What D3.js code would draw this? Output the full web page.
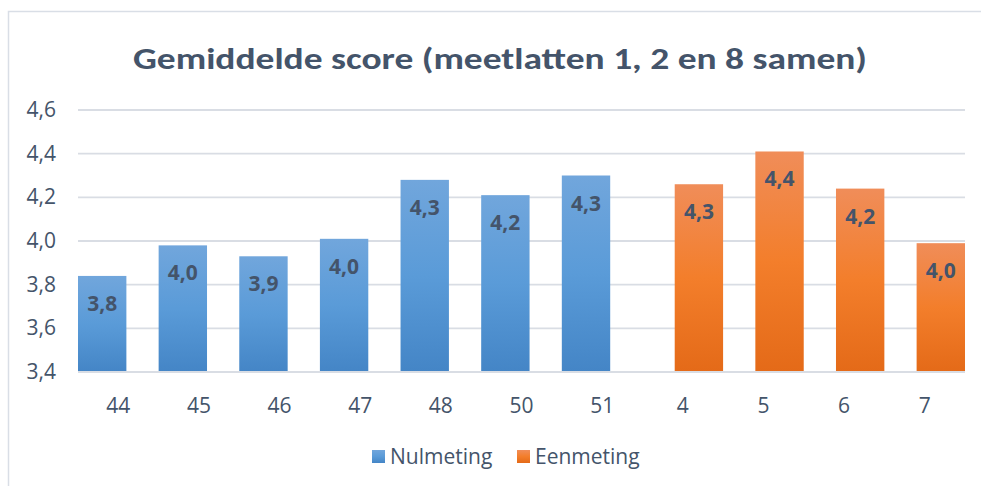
<!DOCTYPE html>
<html>
<head>
<meta charset="utf-8">
<script src="https://cdn.jsdelivr.net/npm/d3@7"></script>
<style>
  body { margin: 0; background: #fff; }
  text { font-family: "Open Sans", "Noto Sans", sans-serif; }
  text.title { font-family: Calibri, Carlito, Lato, sans-serif; }
</style>
</head>
<body>
<div id="chart"></div>
<script>
var categories = ["44", "45", "46", "47", "48", "50", "51", "4", "5", "6", "7"];
var nulmeting = [3.84, 3.98, 3.93, 4.01, 4.28, 4.21, 4.30, null, null, null, null];
var eenmeting = [null, null, null, null, null, null, null, 4.26, 4.41, 4.24, 3.99];
var yTicks = [3.4, 3.6, 3.8, 4.0, 4.2, 4.4, 4.6];
var seriesNames = ["Nulmeting", "Eenmeting"];

var W = 981, H = 486;
var margin = {left: 78, right: 16, top: 110, bottom: 114};
var txt = "#44546a", grid = "#d9dde4";
var fs = 21;

var svg = d3.select("#chart").append("svg")
    .attr("width", W)
    .attr("height", H);

var defs = svg.append("defs");
function grad(id, stops) {
    var lg = defs.append("linearGradient").attr("id", id)
        .attr("x1", 0).attr("y1", 0).attr("x2", 0).attr("y2", 1);
    stops.forEach(function (s) {
        lg.append("stop").attr("offset", s[0]).attr("stop-color", s[1]);
    });
}
grad("gBlue", [["0%", "#71a6dc"], ["50%", "#5a9bd8"], ["100%", "#4485c6"]]);
grad("gOrange", [["0%", "#f08d59"], ["50%", "#f37e2b"], ["100%", "#e46a18"]]);

// chart border (only top and left visible)
svg.append("path")
    .attr("d", "M8.5," + (H + 5) + "V11.5H" + (W + 5))
    .attr("fill", "none")
    .attr("stroke", "#d9dee6")
    .attr("stroke-width", 1.5);

svg.append("text")
    .attr("class", "title")
    .attr("x", 500)
    .attr("y", 69)
    .attr("text-anchor", "middle")
    .attr("font-size", 31)
    .attr("font-weight", "bold")
    .attr("fill", txt)
    .attr("textLength", 734)
    .attr("lengthAdjust", "spacingAndGlyphs")
    .text("Gemiddelde score (meetlatten 1, 2 en 8 samen)");

var x = d3.scaleBand()
    .domain(categories)
    .range([margin.left, W - margin.right])
    .padding(0);

var y = d3.scaleLinear()
    .domain([3.4, 4.6])
    .range([H - margin.bottom, margin.top]);

var g = svg.append("g");

g.selectAll(".grid")
    .data(yTicks)
    .enter().append("line")
    .attr("class", "grid")
    .attr("x1", margin.left)
    .attr("x2", W - margin.right)
    .attr("y1", d => y(d))
    .attr("y2", d => y(d))
    .attr("stroke", grid)
    .attr("stroke-width", 1.8);

g.selectAll(".ylab")
    .data(yTicks)
    .enter().append("text")
    .attr("class", "ylab")
    .attr("x", 56)
    .attr("y", d => y(d) + 7)
    .attr("text-anchor", "end")
    .attr("font-size", fs)
    .attr("fill", txt)
    .text(d => d3.format(".1f")(d).replace(".", ","));

g.selectAll(".xlab")
    .data(categories)
    .enter().append("text")
    .attr("class", "xlab")
    .attr("x", d => x(d) + x.bandwidth() / 2)
    .attr("y", H - margin.bottom + 41)
    .attr("text-anchor", "middle")
    .attr("font-size", fs)
    .attr("fill", txt)
    .text(d => d);

var barW = x.bandwidth() * 0.6;

function drawSeries(values, fill, offset) {
    var data = categories.map(function (c, i) { return {cat: c, v: values[i]}; })
        .filter(d => d.v !== null);
    g.selectAll(null)
        .data(data)
        .enter().append("rect")
        .attr("x", d => x(d.cat) + offset)
        .attr("y", d => y(d.v))
        .attr("width", barW)
        .attr("height", d => y(3.4) - y(d.v))
        .attr("fill", fill);
    g.selectAll(null)
        .data(data)
        .enter().append("text")
        .attr("x", d => x(d.cat) + offset + barW / 2)
        .attr("y", d => y(d.v) + 35)
        .attr("text-anchor", "middle")
        .attr("font-size", fs)
        .attr("font-weight", "bold")
        .attr("fill", txt)
        .text(d => d3.format(".1f")(d.v).replace(".", ","));
}
drawSeries(nulmeting, "url(#gBlue)", 0);
drawSeries(eenmeting, "url(#gOrange)", x.bandwidth() - barW);

// axis line on top of bars
g.append("line")
    .attr("x1", margin.left).attr("x2", W - margin.right)
    .attr("y1", y(3.4)).attr("y2", y(3.4))
    .attr("stroke", grid).attr("stroke-width", 1.8);

// legend
var legend = svg.append("g");
var legendItems = [
    {name: seriesNames[0], fill: "url(#gBlue)", x: 372},
    {name: seriesNames[1], fill: "url(#gOrange)", x: 517}
];
legendItems.forEach(function (d) {
    legend.append("rect")
        .attr("x", d.x).attr("y", 450)
        .attr("width", 13).attr("height", 13)
        .attr("fill", d.fill);
    legend.append("text")
        .attr("x", d.x + 18).attr("y", 464)
        .attr("font-size", fs)
        .attr("fill", txt)
        .text(d.name);
});
</script>
</body>
</html>
